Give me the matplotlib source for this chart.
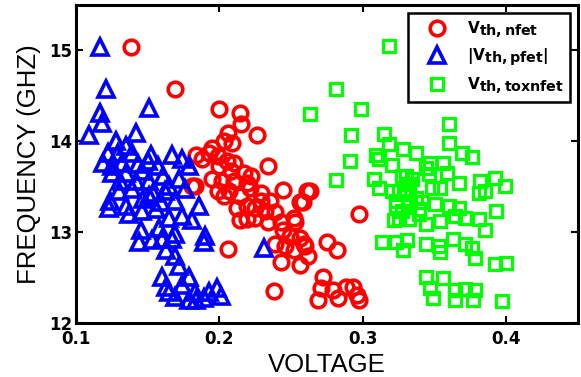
import matplotlib
matplotlib.use("Agg")
import matplotlib.pyplot as plt
import matplotlib._mathtext as _mt

# Vth,nfet (red circles)
nfet_v = [0.138, 0.169, 0.200, 0.214, 0.215, 0.226, 0.206, 0.203, 0.209, 0.195,
          0.193, 0.184, 0.188, 0.199, 0.205, 0.210, 0.200, 0.234, 0.208, 0.217,
          0.222, 0.195, 0.202, 0.210, 0.219, 0.183, 0.199, 0.207, 0.221, 0.229,
          0.244, 0.261, 0.256, 0.235, 0.212, 0.219, 0.225, 0.232, 0.239, 0.219,
          0.225, 0.214, 0.234, 0.243, 0.252, 0.253, 0.244, 0.249, 0.256, 0.239,
          0.246, 0.252, 0.259, 0.243, 0.256, 0.206, 0.238, 0.262, 0.275, 0.282,
          0.272, 0.271, 0.279, 0.269, 0.283, 0.288, 0.297, 0.260, 0.293, 0.296,
          0.297, 0.181, 0.263, 0.258, 0.214, 0.203, 0.229]
nfet_f = [15.04, 14.58, 14.36, 14.31, 14.19, 14.07, 14.09, 14.00, 13.98, 13.93,
          13.87, 13.85, 13.80, 13.84, 13.78, 13.76, 13.73, 13.73, 13.67, 13.65,
          13.62, 13.58, 13.56, 13.56, 13.54, 13.51, 13.45, 13.45, 13.49, 13.43,
          13.46, 13.45, 13.33, 13.34, 13.27, 13.29, 13.27, 13.23, 13.22, 13.14,
          13.16, 13.13, 13.11, 13.11, 13.16, 13.11, 13.02, 12.96, 12.94, 12.87,
          12.85, 12.80, 12.87, 12.67, 12.64, 12.81, 12.35, 12.74, 12.89, 12.80,
          12.51, 12.38, 12.36, 12.25, 12.27, 12.40, 13.20, 12.85, 12.40, 12.31,
          12.25, 13.51, 13.45, 13.33, 13.40, 13.40, 13.34]

# |Vth,pfet| (blue triangles)
pfet_v = [0.117, 0.121, 0.151, 0.117, 0.118, 0.109, 0.142, 0.128, 0.135, 0.122,
          0.129, 0.139, 0.152, 0.167, 0.174, 0.119, 0.125, 0.132, 0.143, 0.150,
          0.157, 0.125, 0.135, 0.146, 0.161, 0.172, 0.142, 0.151, 0.130, 0.139,
          0.154, 0.165, 0.176, 0.123, 0.135, 0.147, 0.159, 0.169, 0.186, 0.137,
          0.146, 0.156, 0.165, 0.174, 0.181, 0.145, 0.144, 0.153, 0.160, 0.167,
          0.189, 0.163, 0.169, 0.172, 0.160, 0.179, 0.163, 0.174, 0.183, 0.169,
          0.179, 0.189, 0.193, 0.198, 0.184, 0.165, 0.231, 0.190, 0.131, 0.151,
          0.162, 0.124, 0.179, 0.169, 0.158, 0.201]
pfet_f = [15.04, 14.58, 14.37, 14.31, 14.20, 14.07, 14.09, 14.00, 13.95, 13.87,
          13.87, 13.87, 13.85, 13.85, 13.80, 13.76, 13.73, 13.76, 13.75, 13.78,
          13.73, 13.65, 13.65, 13.67, 13.62, 13.58, 13.56, 13.56, 13.45, 13.47,
          13.43, 13.51, 13.47, 13.27, 13.29, 13.36, 13.33, 13.34, 13.29, 13.20,
          13.23, 13.25, 13.16, 13.18, 13.13, 13.02, 12.89, 12.91, 12.93, 12.93,
          12.89, 12.80, 12.74, 12.63, 12.51, 12.51, 12.40, 12.42, 12.34, 12.29,
          12.25, 12.27, 12.34, 12.38, 12.25, 12.34, 12.82, 12.96, 13.56, 13.40,
          13.45, 13.34, 13.73, 12.98, 13.05, 12.30]

# Vth,toxnfet (green squares)
tox_v = [0.318, 0.281, 0.299, 0.263, 0.360, 0.292, 0.315, 0.360, 0.318, 0.328,
         0.337, 0.369, 0.376, 0.309, 0.291, 0.311, 0.347, 0.356, 0.320, 0.346,
         0.359, 0.308, 0.327, 0.334, 0.281, 0.311, 0.320, 0.332, 0.348, 0.354,
         0.367, 0.382, 0.392, 0.399, 0.381, 0.385, 0.330, 0.337, 0.323, 0.332,
         0.341, 0.350, 0.360, 0.367, 0.327, 0.339, 0.322, 0.332, 0.344, 0.354,
         0.364, 0.371, 0.381, 0.393, 0.385, 0.313, 0.323, 0.331, 0.328, 0.344,
         0.353, 0.363, 0.371, 0.376, 0.354, 0.378, 0.392, 0.400, 0.344, 0.356,
         0.347, 0.364, 0.371, 0.378, 0.349, 0.364, 0.377, 0.397, 0.330, 0.325,
         0.332, 0.323, 0.325, 0.339, 0.344]
tox_f = [15.05, 14.57, 14.36, 14.30, 14.19, 14.07, 14.08, 13.98, 13.97, 13.92,
         13.87, 13.87, 13.83, 13.85, 13.78, 13.80, 13.76, 13.76, 13.74, 13.64,
         13.65, 13.59, 13.62, 13.58, 13.57, 13.49, 13.45, 13.53, 13.49, 13.49,
         13.54, 13.56, 13.60, 13.51, 13.43, 13.45, 13.42, 13.38, 13.29, 13.31,
         13.33, 13.31, 13.29, 13.27, 13.23, 13.25, 13.13, 13.14, 13.09, 13.12,
         13.18, 13.16, 13.14, 13.23, 13.02, 12.89, 12.89, 12.91, 12.80, 12.87,
         12.85, 12.93, 12.87, 12.83, 12.78, 12.72, 12.65, 12.66, 12.51, 12.50,
         12.38, 12.36, 12.37, 12.36, 12.27, 12.25, 12.25, 12.24, 13.62, 13.45,
         13.34, 13.34, 13.15, 13.20, 13.71]

labels = [r'$\mathbf{V_{th,nfet}}$', r'$\mathbf{|V_{th,pfet}|}$', r'$\mathbf{V_{th,toxnfet}}$']
x_ticks = [0.1, 0.2, 0.3, 0.4]
y_ticks = [12, 13, 14, 15]

# larger subscripts in legend labels (as in the reference rendering)
_mt.SHRINK_FACTOR = 0.93

plt.rcParams['font.family'] = ['Liberation Sans', 'DejaVu Sans']
plt.rcParams['mathtext.fontset'] = 'dejavusans'

fig = plt.figure(figsize=(5.81, 3.77), dpi=100)
ax = fig.add_axes([76/581, 54/377, 502/581, 318/377])

ax.plot(nfet_v, nfet_f, 'o', ls='none', mfc='none', mec=(1, 0, 0), ms=10.5, mew=2.6, label=labels[0])
ax.plot(pfet_v, pfet_f, '^', ls='none', mfc='none', mec=(0, 0, 1), ms=12, mew=2.6, label=labels[1])
ax.plot(tox_v, tox_f, 's', ls='none', mfc='none', mec=(0, 1, 0), ms=8.5, mew=2.3, label=labels[2])

ax.set_xlim(0.1, 0.45)
ax.set_ylim(12, 15.5)
ax.set_xticks(x_ticks)
ax.set_xticklabels([str(v) for v in x_ticks])
ax.set_yticks(y_ticks)
ax.set_yticklabels([str(v) for v in y_ticks])
ax.tick_params(direction='in', top=True, right=True, length=5, width=1.5,
               labelsize=12)
ax.tick_params(axis='x', pad=5)
ax.tick_params(axis='y', pad=3)
for lab in ax.get_xticklabels() + ax.get_yticklabels():
    lab.set_fontweight('bold')
    lab.set_family('DejaVu Sans')
for sp in ax.spines.values():
    sp.set_linewidth(2.2)

ax.set_xlabel('VOLTAGE', fontsize=18.5)
ax.set_ylabel('FREQUENCY (GHZ)', fontsize=18.5)
ax.xaxis.set_label_coords(0.5, -0.095)
ax.yaxis.set_label_coords(-0.07, 0.5)

leg = ax.legend(loc='upper right', fontsize=11, fancybox=False, edgecolor='black',
                framealpha=1, borderaxespad=0.5, handletextpad=0.5, labelspacing=0.45,
                borderpad=0.4, handlelength=3.0)
leg.get_frame().set_linewidth(1.8)

fig.savefig('out.png', dpi=100)
